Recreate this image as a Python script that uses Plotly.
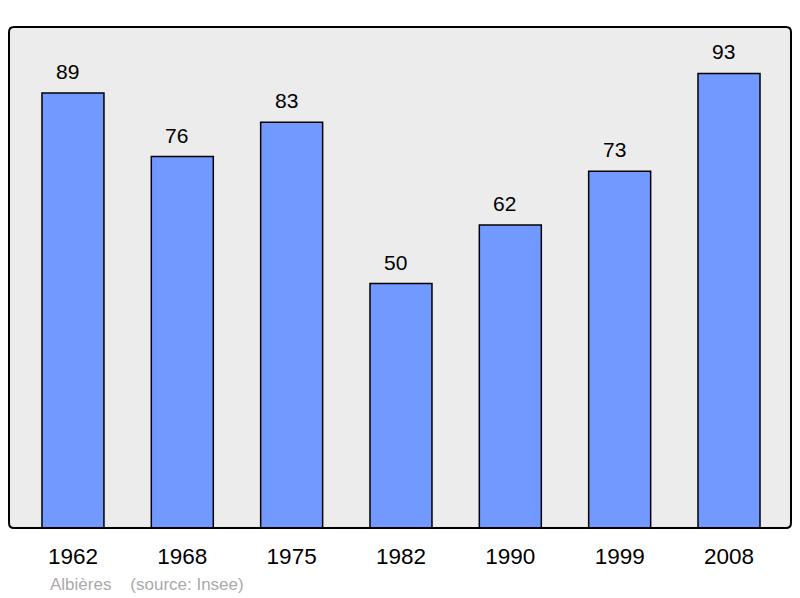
import plotly.graph_objects as go

years = ["1962", "1968", "1975", "1982", "1990", "1999", "2008"]
population = [89, 76, 83, 50, 62, 73, 93]
caption = "Albières&nbsp;&nbsp;&nbsp;&nbsp;(source: Insee)"

# page has an 8px body margin; figure sized so the plot lands where the reference has it
W, H = 792, 590
L, R, T, B = 1, 9, 19, 70
FONT = "Liberation Sans, Arial"

fig = go.Figure()
fig.add_trace(go.Bar(
    x=list(range(len(years))), y=population,
    width=0.567,
    marker=dict(color="#7199ff", line=dict(color="#000000", width=1.5)),
    hoverinfo="skip",
))
for i, v in enumerate(population):
    fig.add_annotation(x=i, y=v, text=str(v), showarrow=False,
                       yanchor="bottom", yshift=8, xshift=-5.5,
                       font=dict(family=FONT, size=21, color="#000000"))

# rounded plot frame
pw = W - L - R
ph = H - T - B
r = 5
rx, ry = r / pw, r / ph
path = (f"M {rx},0 L {1-rx},0 Q 1,0 1,{ry} L 1,{1-ry} Q 1,1 {1-rx},1 "
        f"L {rx},1 Q 0,1 0,{1-ry} L 0,{ry} Q 0,0 {rx},0 Z")
fig.add_shape(type="path", xref="paper", yref="paper", path=path,
              line=dict(color="#000000", width=2), layer="above")

fig.add_annotation(xref="paper", yref="paper", x=(40 - L) / pw, y=-(576 - 520) / ph,
                   xanchor="left", yanchor="middle", showarrow=False,
                   text=caption,
                   font=dict(family=FONT, size=17, color="#aaaaaa"))

fig.update_layout(
    width=W, height=H,
    margin=dict(l=L, r=R, t=T, b=B),
    paper_bgcolor="#ffffff",
    plot_bgcolor="#ececec",
    showlegend=False,
    xaxis=dict(range=[-0.585, 6.567], tickvals=list(range(len(years))), ticktext=years,
               showgrid=False, zeroline=False, showline=False,
               ticks="outside", ticklen=8, tickcolor="rgba(0,0,0,0)",
               tickfont=dict(family=FONT, size=22.5, color="#000000")),
    yaxis=dict(range=[0, 102.5], showgrid=False, zeroline=False, showline=False,
               showticklabels=False, ticks=""),
)

fig.write_html("out.html")
